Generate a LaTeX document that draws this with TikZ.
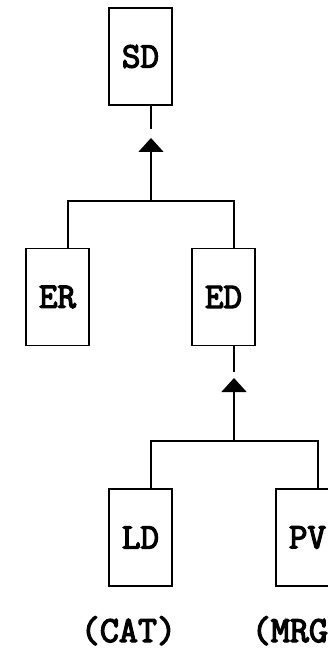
\documentclass[tikz,border=0pt]{standalone}
\usepackage{fontspec}
\newfontfamily\boxfont[FakeBold=3.5]{Latin Modern Mono}
\usetikzlibrary{arrows.meta}
\begin{document}
\begin{tikzpicture}[x=1pt,y=-1pt,line width=1.6pt,
  box/.style={draw,minimum width=63pt,minimum height=97pt,inner sep=0pt,
    font=\boxfont\fontsize{36}{36}\selectfont},
  lab/.style={anchor=base west,inner sep=0pt,
    font=\boxfont\fontsize{37}{37}\selectfont},
  arr/.style={-{Triangle[width=25pt,length=14pt]}}]
\useasboundingbox (0,0) rectangle (327,652);
\node[box] (SD) at (140.5,56.5) {SD};
\node[box] (ER) at (57.5,297) {ER};
\node[box] (ED) at (223.5,297) {ED};
\node[box] (LD) at (140.5,537.5) {LD};
\node[box] (PV) at (307.5,537.5) {PV};
\node[lab] (cat) at (80,642) {(CAT)};
\node[lab] (mrg) at (251,642) {(MRG)};
% level 1
\coordinate (s1) at (151,129);
\coordinate (t1) at (151,138);
\coordinate (h1) at (151,201);
\coordinate (a1) at (68,201);
\coordinate (b1) at (234,201);
\draw (SD.south -| s1) -- (s1);
\draw[arr] (h1) -- (t1);
\draw (ER.north -| a1) -- (a1) -- (b1) -- (ED.north -| b1);
% level 2
\coordinate (s2) at (234,372);
\coordinate (t2) at (234,378);
\coordinate (h2) at (234,441);
\coordinate (a2) at (151,441);
\coordinate (b2) at (318,441);
\draw (ED.south -| s2) -- (s2);
\draw[arr] (h2) -- (t2);
\draw (LD.north -| a2) -- (a2) -- (b2) -- (PV.north -| b2);
\end{tikzpicture}
\end{document}
